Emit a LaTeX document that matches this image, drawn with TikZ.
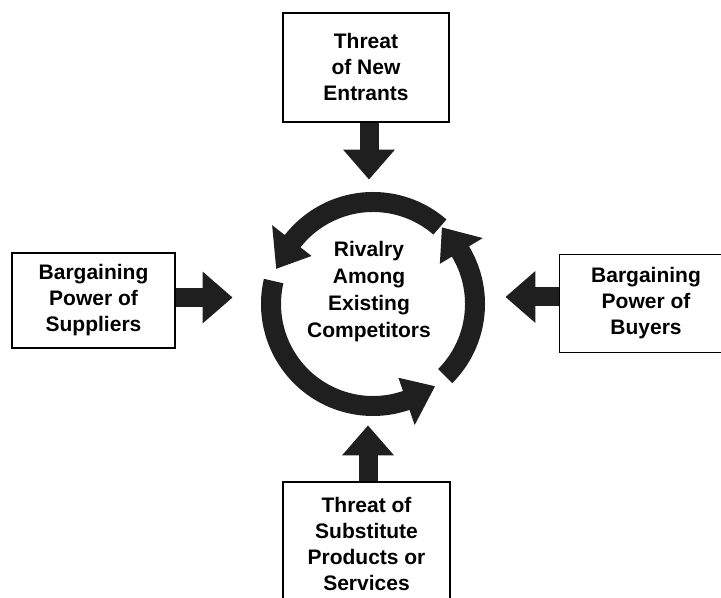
\documentclass[tikz,border=0pt]{standalone}
\usepackage{fontspec}
\setmainfont{Liberation Sans}
\usetikzlibrary{arrows.meta}

\begin{document}
\begin{tikzpicture}[x=0.5pt, y=0.5pt,
    forcebox/.style={draw, line width=0.6pt, align=center, inner sep=0pt,
      font=\bfseries\fontsize{10.5}{13}\selectfont},
    fatarrow/.style={draw=black!88, line width=9.5pt,
      -{Triangle[width=25pt,length=15pt]}},
    ringfill/.style={fill=black!88}]

    % Frame
    \clip (0,0) rectangle (721,598);

    % Rivalry in the middle
    \node[circle, minimum size=112pt, inner sep=0pt] (ring) at (373,294) {};
    \node[align=center, font=\bfseries\fontsize{10.5}{13.5}\selectfont] (rivalry) at (369,306)
        {Rivalry\\Among\\Existing\\Competitors};

    % Circular arrows round the rivalry
    \begin{scope}[shift={(ring.center)}]
        \foreach \s/\b/\t in {49/142/160, 167/289/307, 315/391/408}
            \fill[ringfill] (\s:112) arc[start angle=\s, end angle=\b, radius=112]
                -- (\b:128) -- (\t:103) -- (\b:78) -- (\b:92)
                arc[start angle=\b, end angle=\s, radius=92] -- cycle;
    \end{scope}

    % The four forces
    \node[forcebox, minimum width=83pt, minimum height=54.5pt] (entrants) at (366,530.5)
        {Threat\\of New\\Entrants};
    \node[forcebox, minimum width=81.5pt, minimum height=47.5pt] (suppliers) at (93.5,297.5)
        {Bargaining\\Power of\\Suppliers};
    \node[forcebox, minimum width=83.5pt, minimum height=61.5pt] (substitutes) at (366.5,54.5)
        {Threat of\\Substitute\\Products or\\Services};
    % buyers box runs off the right edge
    \node[forcebox, draw=none, minimum width=86pt, minimum height=48.5pt] (buyers) at (646,294.5)
        {Bargaining\\Power of\\Buyers};
    \draw[line width=0.6pt] (740,0 |- buyers.north) -| (buyers.south west) -- (740,0 |- buyers.south);

    % Arrows into the rivalry
    \draw[fatarrow, shorten >=6pt] ([xshift=1.5pt]entrants.south)
        -- ([xshift=1.5pt]entrants.south |- ring.north);
    \draw[fatarrow, shorten >=14pt] ([yshift=1.5pt]suppliers.east)
        -- ([yshift=1.5pt]suppliers.east -| ring.west);
    \draw[fatarrow, shorten >=10pt] ([yshift=3.25pt]buyers.west)
        -- ([yshift=3.25pt]buyers.west -| ring.east);
    \draw[fatarrow, shorten >=4.5pt] ([xshift=0.75pt]substitutes.north)
        -- ([xshift=0.75pt]substitutes.north |- ring.south);
\end{tikzpicture}
\end{document}
